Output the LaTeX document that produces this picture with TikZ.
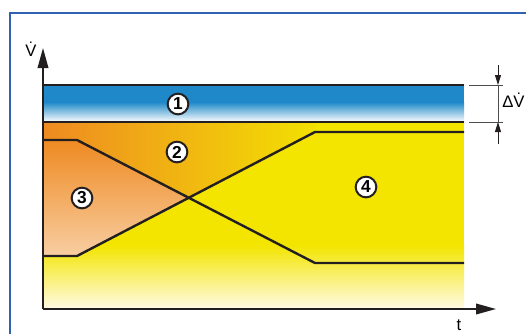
\documentclass[tikz,border=0pt]{standalone}
\usepackage{fontspec}
\setmainfont{Liberation Sans}
\usetikzlibrary{arrows.meta}
\definecolor{frameblue}{HTML}{2F62B0}
\definecolor{bandblue}{HTML}{1E88C8}
\definecolor{orng}{HTML}{EE8A22}
\definecolor{yel}{HTML}{F3E500}
\definecolor{peach}{HTML}{F8CEA2}
\definecolor{paleyel}{HTML}{FFFBE6}
\definecolor{linecol}{HTML}{231F20}
\tikzset{
  curve/.style={draw=linecol, line width=2.4pt*0.75, line join=miter},
  axis/.style={draw=linecol, line width=1.5pt*0.75, -{Triangle[length=15pt,width=8pt]}},
  dim/.style={draw=linecol!80, line width=0.9pt*0.75},
  dimarrow/.style={draw=linecol, line width=0.9pt*0.75, -{Triangle[length=7.5pt,width=4.5pt]}},
  num/.style={circle, draw=linecol, fill=white, line width=1.5pt, minimum size=15.5pt, inner sep=0pt, font=\fontsize{13}{13}\selectfont\bfseries},
  lbl/.style={inner sep=0pt, font=\fontsize{12.5}{12.5}\selectfont}
}
\begin{document}
\begin{tikzpicture}[x=0.75pt,y=-0.75pt]
\useasboundingbox (0,0) rectangle (526,333);
\begin{scope}
\clip (0,0) rectangle (526,333);
% frame
\draw[frameblue, line width=1.6pt] (10,13) rectangle (545,350);

% yellow background
\fill[yel] (43,122) rectangle (464,245);
\shade[top color=yel, bottom color=paleyel] (43,245) rectangle (464,309);

% region 2 (above line 4)
\begin{scope}
\clip (43,122) -- (464,122) -- (464,132) -- (315,132) -- (77,256) -- (43,256) -- cycle;
\shade[left color=orng, right color=yel!95!orng] (43,122) rectangle (316,256);
\end{scope}

% region 3
\begin{scope}
\clip (43,140) -- (77,140) -- (189.5,197.8) -- (77,256) -- (43,256) -- cycle;
\shade[top color=orng, bottom color=peach] (43,140) rectangle (190,256);
\end{scope}

% blue band
\fill[bandblue] (43,85) rectangle (464,102);
\shade[top color=bandblue, bottom color=white] (43,102) rectangle (464,122);

% coordinates
\coordinate (o) at (43,309);
\coordinate (ytip) at (43,48);
\coordinate (xtip) at (496,309);
\coordinate (a1) at (43,85);   \coordinate (a2) at (464,85);
\coordinate (b1) at (43,122);  \coordinate (b2) at (464,122);
\coordinate (c1) at (43,140);  \coordinate (c2) at (77,140);
\coordinate (c3) at (315,263); \coordinate (c4) at (464,263);
\coordinate (d1) at (43,256);  \coordinate (d2) at (77,256);
\coordinate (d3) at (315,132); \coordinate (d4) at (464,132);

% boundary lines
\draw[curve] (a1) -- (a2);
\draw[curve] (b1) -- (b2);
\draw[curve] (c1) -- (c2) -- (c3) -- (c4);
\draw[curve] (d1) -- (d2) -- (d3) -- (d4);

% axes
\draw[axis] (o) -- (ytip);
\draw[axis] (o) -- (xtip);
\node[lbl, anchor=base] (vlab) at (31,56) {\.{V}};
\node[lbl, anchor=north] (tlab) at (459,319) {t};

% dimension
\coordinate (e1) at (469,85);  \coordinate (e2) at (503,85);
\coordinate (f1) at (469,122); \coordinate (f2) at (503,122);
\coordinate (g1) at (498,65);  \coordinate (g2) at (498,85);
\coordinate (h1) at (498,144); \coordinate (h2) at (498,122);
\draw[dim] (e1) -- (e2);
\draw[dim] (f1) -- (f2);
\draw[dim] (g2) -- (h2);
\draw[dimarrow] (g1) -- (g2);
\draw[dimarrow] (h1) -- (h2);
\node[lbl, anchor=base west] (dv) at (502,107) {Δ\.{V}};

% numbers
\node[num] (n1) at (178,104) {1};
\node[num] (n2) at (177,152) {2};
\node[num] (n3) at (82,198) {3};
\node[num] (n4) at (366,187) {4};
\end{scope}
\end{tikzpicture}
\end{document}
